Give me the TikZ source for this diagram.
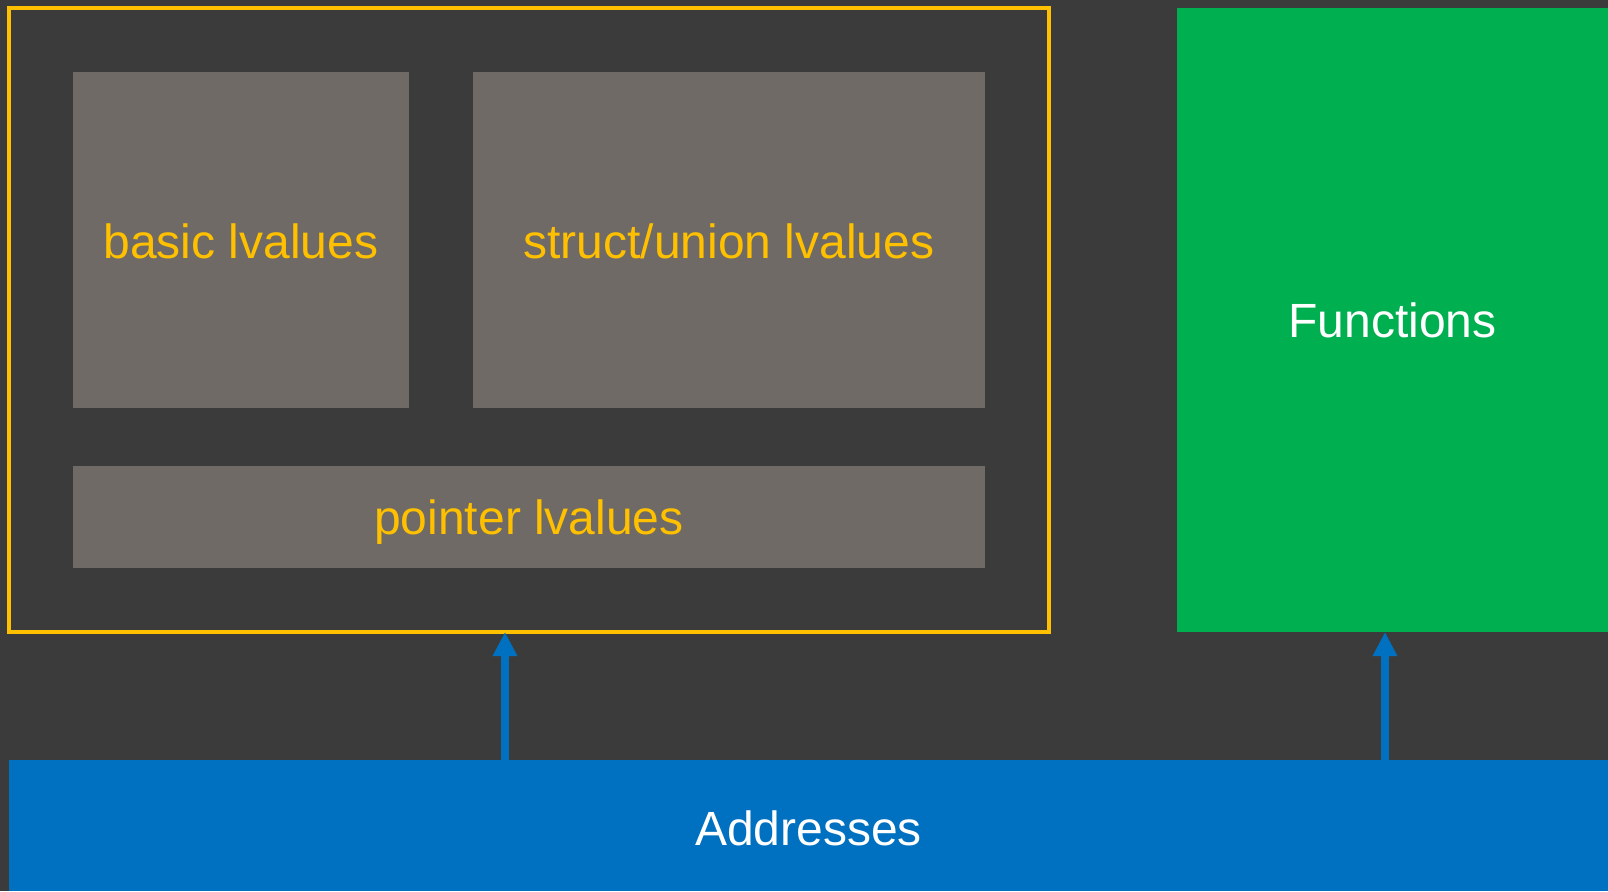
\documentclass[tikz,border=0pt]{standalone}
\usepackage{fontspec}
\setmainfont{Liberation Sans}
\usetikzlibrary{arrows.meta}
\definecolor{bg}{HTML}{3B3B3B}
\definecolor{boxgray}{HTML}{6F6A65}
\definecolor{gold}{HTML}{FFC000}
\definecolor{grn}{HTML}{00B050}
\definecolor{blu}{HTML}{0070C0}
\newcommand{\lowered}[2]{\raisebox{-#1}[\height][\depth]{#2}}
\tikzset{
  panel/.style={anchor=north west, inner sep=0pt, outer sep=0pt, fill=boxgray, text=gold,
    font=\fontsize{48}{58}\selectfont},
  arr/.style={draw=blu, line width=8pt, -{Triangle[width=23pt,length=24pt]}},
}
\begin{document}
\begin{tikzpicture}[x=1pt,y=-1pt]
\useasboundingbox (0,0) rectangle (1608,891);
\fill[bg] (0,0) rectangle (1608,891);
\node[anchor=north west, inner sep=0pt, outer sep=0pt, draw=gold, line width=4pt,
  minimum width=1040pt, minimum height=624pt] (frame) at (9,8) {};
\node[panel, minimum width=336pt, minimum height=336pt] (basic) at (73,72) {\lowered{1pt}{basic lvalues}};
\node[panel, minimum width=512pt, minimum height=336pt] (struct) at (473,72) {\lowered{1pt}{struct/union lvalues}};
\node[panel, minimum width=912pt, minimum height=102pt] (pointer) at (73,466) {\lowered{5pt}{pointer lvalues}};
\node[anchor=north west, inner sep=0pt, outer sep=0pt, fill=grn, text=white,
  font=\fontsize{48}{58}\selectfont, minimum width=431pt, minimum height=624pt] (functions) at (1177,8) {Functions};
\node[anchor=north west, inner sep=0pt, outer sep=0pt, fill=blu, text=white,
  font=\fontsize{48}{58}\selectfont, minimum width=1599pt, minimum height=131pt] (addresses) at (9,760) {\lowered{3pt}{Addresses}};
\coordinate (a1) at (505,700);
\coordinate (a2) at (1385,700);
\draw[arr] (addresses.north -| a1) -- (frame.south -| a1);
\draw[arr] (addresses.north -| a2) -- (functions.south -| a2);
\end{tikzpicture}
\end{document}
